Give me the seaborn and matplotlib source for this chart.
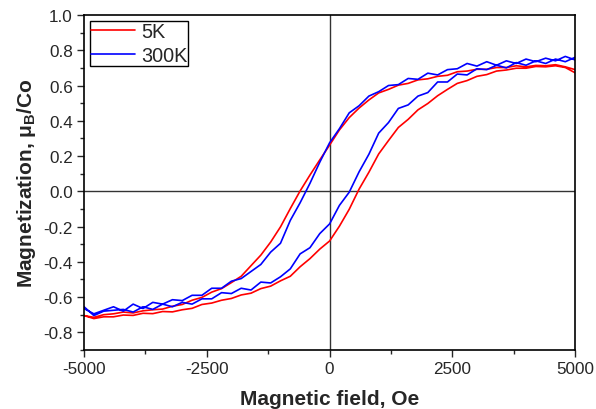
import matplotlib
matplotlib.use("Agg")
import matplotlib.pyplot as plt
from matplotlib.ticker import MultipleLocator, FormatStrFormatter
import seaborn as sns
import pandas as pd

# field grid, Oe
field = [-5000, -4800, -4600, -4400, -4200, -4000, -3800, -3600, -3400, -3200,
         -3000, -2800, -2600, -2400, -2200, -2000, -1800, -1600, -1400, -1200,
         -1000, -800, -600, -400, -200, 0, 200, 400, 600, 800,
         1000, 1200, 1400, 1600, 1800, 2000, 2200, 2400, 2600, 2800,
         3000, 3200, 3400, 3600, 3800, 4000, 4200, 4400, 4600, 4800, 5000]

# 5K, descending branch (read at the field grid above)
m5_down = [-0.705, -0.715, -0.700, -0.695, -0.685, -0.690, -0.678, -0.672, -0.668, -0.652,
           -0.642, -0.618, -0.602, -0.572, -0.552, -0.518, -0.482, -0.422, -0.362, -0.288,
           -0.202, -0.098, 0.002, 0.092, 0.178, 0.262, 0.348, 0.418, 0.472, 0.518,
           0.558, 0.578, 0.602, 0.612, 0.632, 0.638, 0.652, 0.658, 0.678, 0.682,
           0.692, 0.692, 0.702, 0.702, 0.712, 0.706, 0.714, 0.712, 0.718, 0.706, 0.690]
# 5K, ascending branch
m5_up = [-0.705, -0.722, -0.712, -0.712, -0.702, -0.704, -0.692, -0.694, -0.682, -0.684,
         -0.672, -0.664, -0.642, -0.634, -0.618, -0.608, -0.588, -0.578, -0.552, -0.538,
         -0.508, -0.482, -0.428, -0.382, -0.328, -0.282, -0.198, -0.102, 0.012, 0.108,
         0.212, 0.288, 0.362, 0.408, 0.462, 0.498, 0.542, 0.578, 0.612, 0.628,
         0.652, 0.662, 0.682, 0.688, 0.698, 0.698, 0.708, 0.706, 0.712, 0.702, 0.672]

# 300K, descending branch
m300_down = [-0.665, -0.695, -0.675, -0.655, -0.680, -0.640, -0.665, -0.630, -0.640, -0.615,
             -0.620, -0.590, -0.590, -0.550, -0.550, -0.510, -0.495, -0.455, -0.415, -0.345,
             -0.295, -0.165, -0.065, 0.045, 0.165, 0.275, 0.355, 0.445, 0.485, 0.540,
             0.565, 0.600, 0.605, 0.640, 0.635, 0.670, 0.660, 0.690, 0.695, 0.725,
             0.710, 0.735, 0.715, 0.740, 0.725, 0.750, 0.735, 0.755, 0.740, 0.765, 0.745]
# 300K, ascending branch
m300_up = [-0.655, -0.705, -0.680, -0.675, -0.670, -0.685, -0.655, -0.670, -0.640, -0.655,
           -0.630, -0.640, -0.610, -0.610, -0.575, -0.580, -0.550, -0.560, -0.515, -0.520,
           -0.485, -0.440, -0.355, -0.320, -0.240, -0.185, -0.080, -0.005, 0.110, 0.210,
           0.330, 0.390, 0.470, 0.490, 0.540, 0.560, 0.620, 0.620, 0.665, 0.660,
           0.695, 0.690, 0.715, 0.700, 0.730, 0.715, 0.740, 0.725, 0.750, 0.735, 0.760]

labels = ["5K", "300K"]
colors = ["#ff0000", "#0000ff"]

rows = []
for lab, down, up in [("5K", m5_down, m5_up), ("300K", m300_down, m300_up)]:
    for h, m in zip(field[::-1], down[::-1]):
        rows.append((lab, h, m))
    for h, m in zip(field, up):
        rows.append((lab, h, m))
df = pd.DataFrame(rows, columns=["sample", "field", "m"])

sns.set_style("ticks")
plt.rcParams["font.family"] = ["Liberation Sans", "DejaVu Sans"]
plt.rcParams["mathtext.fontset"] = "custom"
plt.rcParams["mathtext.rm"] = "Liberation Sans"
plt.rcParams["mathtext.bf"] = "Liberation Sans:bold"
plt.rcParams["axes.unicode_minus"] = False

fig = plt.figure(figsize=(5.96, 4.10), dpi=100)
ax = fig.add_axes([0.141, 0.144, 0.824, 0.817])

ax.axhline(0, color="#333333", lw=1.0, zorder=1)
ax.axvline(0, color="#333333", lw=1.0, zorder=1)

sns.lineplot(data=df, x="field", y="m", hue="sample", hue_order=labels,
             palette=colors, sort=False, estimator=None, lw=1.2, ax=ax, zorder=2)

ax.set_xlim(-5000, 5000)
ax.set_ylim(-0.9, 1.0)
ax.xaxis.set_major_locator(MultipleLocator(2500))
ax.xaxis.set_minor_locator(MultipleLocator(1250))
ax.yaxis.set_major_locator(MultipleLocator(0.2))
ax.yaxis.set_minor_locator(MultipleLocator(0.1))
ax.yaxis.set_major_formatter(FormatStrFormatter("%.1f"))
ax.tick_params(which="major", direction="out", length=5, width=1, labelsize=12.3, pad=3)
ax.tick_params(which="minor", direction="out", length=3, width=1)
for s in ax.spines.values():
    s.set_linewidth(1.2)
    s.set_color("black")

ax.set_xlabel("Magnetic field, Oe", fontsize=15, fontweight="bold", labelpad=9)
ax.set_ylabel(r"Magnetization, μ$_\mathbf{B}$/Co", fontsize=15, fontweight="bold", labelpad=4)

handles, _ = ax.get_legend_handles_labels()
leg = ax.legend(handles, labels, loc="upper left", fontsize=14.3, frameon=True, fancybox=False,
                edgecolor="black", framealpha=1, handlelength=2.2, handletextpad=0.3,
                borderpad=0.06, labelspacing=0.22, borderaxespad=0.3)
leg.get_frame().set_linewidth(1.0)

fig.savefig("out.png", dpi=100)
